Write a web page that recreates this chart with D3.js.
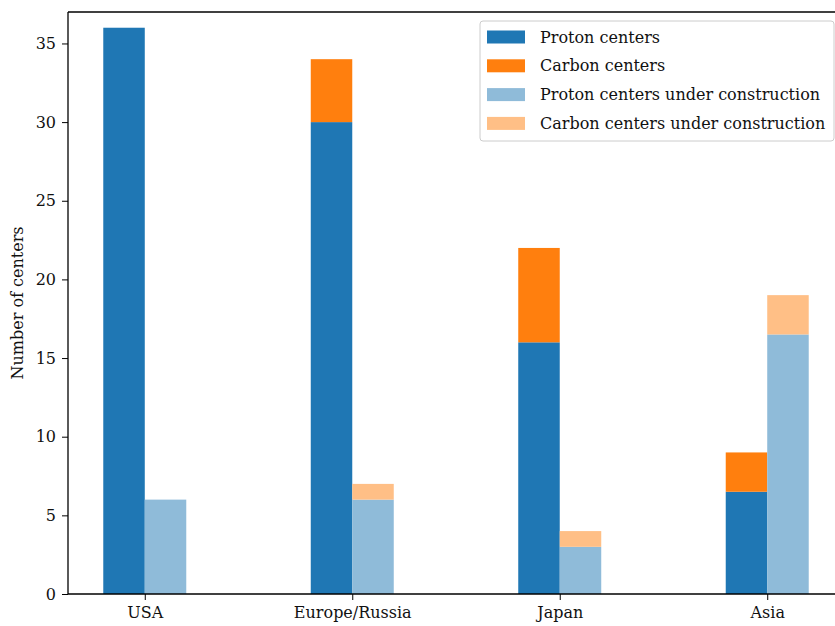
<!DOCTYPE html>
<html><head><meta charset="utf-8">
<script src="https://cdn.jsdelivr.net/npm/d3@7"></script>
<style>body{margin:0;background:#fff}svg{display:block}text{font-family:"DejaVu Serif",serif;fill:#111}</style>
</head><body>
<svg id="c" width="835" height="626"></svg>
<script>
const regions = ["USA", "Europe/Russia", "Japan", "Asia"];
const protonCenters = [36, 30, 16, 6.5];
const carbonCenters = [0, 4, 6, 2.5];
const protonUnderConstruction = [6, 6, 3, 16.5];
const carbonUnderConstruction = [0, 1, 1, 2.5];
const yTicks = [0, 5, 10, 15, 20, 25, 30, 35];
const seriesNames = ["Proton centers", "Carbon centers", "Proton centers under construction", "Carbon centers under construction"];
const colors = ["#1f77b4", "#ff7f0e", "#8fbbd9", "#ffbf86"];

(function () {
const FONT = '"DejaVu Serif", serif';
const FS = "16px";
const svg = d3.select("#c");
const mLeft = 68, mTop = 12, mBottom = 594, mRight = 844;
const x = d3.scaleLinear().domain([-0.37, 3.37]).range([mLeft, mRight]);
const y = d3.scaleLinear().domain([0, 37]).range([mBottom, mTop]);
const bw = 0.2;

const g = svg.append("g");
regions.forEach((r, i) => {
  const stacks = [
    {x0: i - bw, parts: [[protonCenters[i], colors[0]], [carbonCenters[i], colors[1]]]},
    {x0: i, parts: [[protonUnderConstruction[i], colors[2]], [carbonUnderConstruction[i], colors[3]]]}
  ];
  stacks.forEach(s => {
    let base = 0;
    s.parts.forEach(([v, c]) => {
      if (v > 0) {
        g.append("rect")
          .attr("x", x(s.x0)).attr("width", x(s.x0 + bw) - x(s.x0))
          .attr("y", y(base + v)).attr("height", y(base) - y(base + v))
          .attr("fill", c);
      }
      base += v;
    });
  });
});

const yAxis = d3.axisLeft(y).tickValues(yTicks).tickSize(6).tickPadding(6);
const ya = svg.append("g").attr("transform", `translate(${mLeft},0)`).call(yAxis);
ya.attr("font-family", null).attr("font-size", null);
ya.select(".domain").remove();
ya.selectAll("text").style("font-size", FS).style("font-family", FONT);
ya.selectAll("line").attr("stroke", "#000");

const xAxis = d3.axisBottom(x).tickValues(regions.map((d, i) => i)).tickFormat((d) => regions[d]).tickSize(6).tickPadding(7);
const xa = svg.append("g").attr("transform", `translate(0,${mBottom})`).call(xAxis);
xa.attr("font-family", null).attr("font-size", null);
xa.select(".domain").remove();
xa.selectAll("text").style("font-size", FS).style("font-family", FONT);
xa.selectAll("line").attr("stroke", "#000");

svg.append("line").attr("x1", mLeft).attr("x2", mLeft).attr("y1", mTop).attr("y2", mBottom).attr("stroke", "#000").attr("stroke-width", 1.3);
svg.append("line").attr("x1", mLeft).attr("x2", 835).attr("y1", mBottom).attr("y2", mBottom).attr("stroke", "#000").attr("stroke-width", 1.3);
svg.append("line").attr("x1", mLeft).attr("x2", 835).attr("y1", mTop).attr("y2", mTop).attr("stroke", "#000").attr("stroke-width", 1.3);

svg.append("text").attr("transform", `translate(23,303) rotate(-90)`).attr("text-anchor", "middle")
  .style("font-size", FS).style("font-family", FONT).text("Number of centers");

const lg = svg.append("g");
lg.append("rect").attr("x", 480).attr("y", 21).attr("width", 354).attr("height", 120).attr("rx", 3)
  .attr("fill", "#fff").attr("fill-opacity", 0.8).attr("stroke", "#ccc").attr("stroke-width", 1);
seriesNames.forEach((n, i) => {
  const cy = 37 + i * 28.8;
  lg.append("rect").attr("x", 487).attr("y", cy - 6.5).attr("width", 38).attr("height", 13).attr("fill", colors[i]);
  lg.append("text").attr("x", 540).attr("y", cy).attr("dy", "0.35em").style("font-size", FS).style("font-family", FONT).text(n);
});
})();
</script>
</body></html>
